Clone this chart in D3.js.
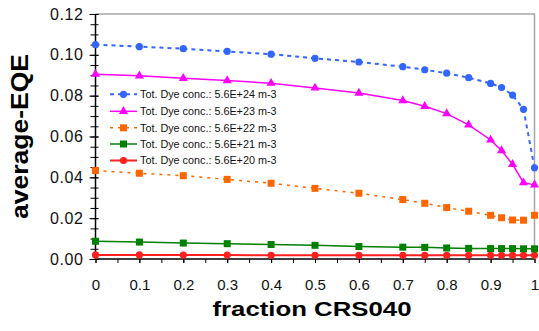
<!DOCTYPE html>
<html>
<head>
<meta charset="utf-8">
<script src="https://cdn.jsdelivr.net/npm/d3@7"></script>
<style>
  body { margin: 0; background: #fff; }
  svg { display: block; font-family: Arial, "Liberation Sans", sans-serif; }
</style>
</head>
<body>
<svg id="chart" width="539" height="331"></svg>
<script>
// ---- data
var fracCRS = [0, 0.1, 0.2, 0.3, 0.4, 0.5, 0.6, 0.7, 0.75, 0.8, 0.85, 0.9, 0.925, 0.95, 0.975, 1];

var eqe24 = [0.105, 0.104, 0.103, 0.1017, 0.1003, 0.0983, 0.0965, 0.0942, 0.0927, 0.091, 0.0888, 0.086, 0.084, 0.0803, 0.0733, 0.0447];
var eqe23 = [0.0905, 0.0897, 0.0885, 0.0874, 0.0861, 0.0838, 0.0813, 0.0776, 0.0748, 0.0712, 0.0657, 0.0583, 0.0531, 0.0464, 0.0374, 0.0363];
var eqe22 = [0.0433, 0.042, 0.0408, 0.039, 0.0371, 0.0346, 0.0322, 0.0291, 0.0273, 0.0252, 0.0234, 0.0214, 0.0202, 0.0191, 0.019, 0.0214];
var eqe21 = [0.0087, 0.0083, 0.0078, 0.0075, 0.0071, 0.0067, 0.0061, 0.0058, 0.0057, 0.0054, 0.0052, 0.0051, 0.0051, 0.0051, 0.005, 0.005];
var eqe20 = [0.002, 0.002, 0.0019, 0.0019, 0.0018, 0.0018, 0.0018, 0.0018, 0.0018, 0.0018, 0.0018, 0.0018, 0.0018, 0.0018, 0.0018, 0.0018];

var seriesNames = ["Tot. Dye conc.: 5.6E+24 m-3", "Tot. Dye conc.: 5.6E+23 m-3", "Tot. Dye conc.: 5.6E+22 m-3",
                   "Tot. Dye conc.: 5.6E+21 m-3", "Tot. Dye conc.: 5.6E+20 m-3"];

var xTicks = [0, 0.1, 0.2, 0.3, 0.4, 0.5, 0.6, 0.7, 0.8, 0.9, 1];
var yTicks = [0, 0.02, 0.04, 0.06, 0.08, 0.10, 0.12];

// ---- styles per series
var styles = [
  {color: "#3366ff", dash: "4,4", width: 2, marker: "circle"},
  {color: "#ff00ff", dash: null, width: 1.5, marker: "triangle"},
  {color: "#ff6600", dash: "3,5", width: 1.5, marker: "square"},
  {color: "#008000", dash: null, width: 1.5, marker: "square"},
  {color: "#ff2020", dash: null, width: 2, marker: "circle"}
];
var allSeries = [eqe24, eqe23, eqe22, eqe21, eqe20];

var svg = d3.select("#chart");

var x = d3.scaleLinear().domain([0, 1]).range([95.5, 534.5]);
var y = d3.scaleLinear().domain([0, 0.12]).range([259, 14]);

// grey frame top / right
svg.append("path")
  .attr("d", "M" + x(0) + "," + y(0.12) + "H" + x(1) + "V" + y(0))
  .attr("fill", "none").attr("stroke", "#a6a6a6").attr("stroke-width", 1.5);

// ---- y axis: minor ticks every 0.005, labels every 0.02
var yMinor = d3.range(0, 0.1201, 0.005);
var gyMinor = svg.append("g")
  .attr("transform", "translate(" + x(0) + ",0)")
  .call(d3.axisLeft(y).tickValues(yMinor).tickSize(5).tickFormat(""));
gyMinor.selectAll(".tick line").attr("x1", 3);
gyMinor.select(".domain").remove();

var gy = svg.append("g")
  .attr("transform", "translate(" + x(0) + ",0)")
  .call(d3.axisLeft(y).tickValues(yTicks).tickSize(6).tickPadding(6).tickFormat(d3.format(".2f")));
gy.selectAll(".tick line").attr("x1", 3);
gy.select(".domain").attr("d", "M0," + y(0) + "V" + y(0.12)).attr("stroke", "#000").attr("stroke-width", 1.5);
gy.selectAll("text").attr("font-size", 16).attr("fill", "#111").attr("font-family", "Arial, Liberation Sans, sans-serif")
  .attr("letter-spacing", 0.6);

// ---- x axis
var xMinor = d3.range(0, 1.001, 0.05);
var gxMinor = svg.append("g")
  .attr("transform", "translate(0," + y(0) + ")")
  .call(d3.axisBottom(x).tickValues(xMinor).tickSize(4).tickFormat(""));
gxMinor.select(".domain").remove();

var gx = svg.append("g")
  .attr("transform", "translate(0," + y(0) + ")")
  .call(d3.axisBottom(x).tickValues(xTicks).tickSize(4).tickPadding(16).tickFormat(d3.format("")));
gx.select(".domain").attr("d", "M" + x(0) + ",0H" + x(1)).attr("stroke", "#000").attr("stroke-width", 1.5);
gx.selectAll("text").attr("font-size", 15).attr("fill", "#111").attr("font-family", "Arial, Liberation Sans, sans-serif");

// ---- axis titles
svg.append("text")
  .attr("x", 312).attr("y", 316)
  .attr("text-anchor", "middle")
  .attr("font-size", 21).attr("font-weight", "bold")
  .attr("textLength", 199).attr("lengthAdjust", "spacingAndGlyphs")
  .text("fraction CRS040");

svg.append("text")
  .attr("transform", "translate(28,136.5) rotate(-90)")
  .attr("text-anchor", "middle")
  .attr("font-size", 24).attr("font-weight", "bold")
  .attr("textLength", 165).attr("lengthAdjust", "spacingAndGlyphs")
  .text("average-EQE");

// ---- markers
function drawMarker(g, type, color, cx, cy) {
  if (type === "circle") {
    g.append("circle").attr("cx", cx).attr("cy", cy).attr("r", 3.6).attr("fill", color);
  } else if (type === "square") {
    g.append("rect").attr("x", cx - 3.5).attr("y", cy - 3.5).attr("width", 7).attr("height", 7).attr("fill", color);
  } else {
    g.append("path").attr("d", d3.symbol(d3.symbolTriangle, 36)()).attr("transform", "translate(" + cx + "," + cy + ")").attr("fill", color);
  }
}

var line = d3.line().x(function(d) { return x(d[0]); }).y(function(d) { return y(d[1]); });

// draw from the bottom series upward so the top ones sit on top
for (var i = allSeries.length - 1; i >= 0; i--) {
  var st = styles[i];
  var pts = fracCRS.map(function(f, j) { return [f, allSeries[i][j]]; });
  var g = svg.append("g");
  g.append("path")
    .attr("d", line(pts))
    .attr("fill", "none")
    .attr("stroke", st.color)
    .attr("stroke-width", st.width)
    .attr("stroke-dasharray", st.dash);
  pts.forEach(function(p) { drawMarker(g, st.marker, st.color, x(p[0]), y(p[1])); });
}

// ---- legend
var legendY = [94.3, 111.3, 127.8, 144, 160.5];
seriesNames.forEach(function(name, i) {
  var st = styles[i];
  var g = svg.append("g");
  g.append("line")
    .attr("x1", 110).attr("x2", 137).attr("y1", legendY[i]).attr("y2", legendY[i])
    .attr("stroke", st.color).attr("stroke-width", st.width)
    .attr("stroke-dasharray", st.dash);
  drawMarker(g, st.marker, st.color, 123.5, legendY[i]);
  g.append("text")
    .attr("x", 140).attr("y", legendY[i] + 3.8)
    .attr("font-size", 10.8).attr("fill", "#111")
    .text(name);
});
</script>
</body>
</html>
